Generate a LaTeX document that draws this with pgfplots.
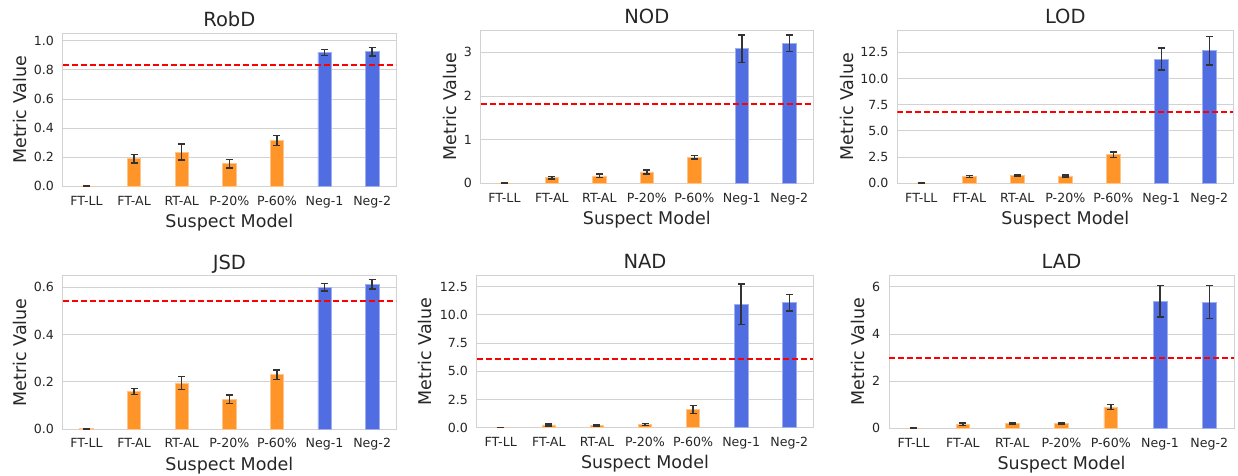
\documentclass[border=0pt]{standalone}
\usepackage{fontspec}
\setmainfont{DejaVu Sans}
\usepackage{pgfplots}
\pgfplotsset{compat=1.18}

\definecolor{barorange}{RGB}{255,148,40}
\definecolor{barblue}{RGB}{80,110,225}
\definecolor{gridgray}{RGB}{210,210,210}
\definecolor{txt}{RGB}{38,38,38}

% #1 = gap between the y label's baseline and the axis box
\pgfplotsset{
  panel/.style={
    scale only axis, anchor=south west,
    ybar, bar width=0.28, bar shift=0pt,
    xmin=-0.5, xmax=6.5, ymin=0,
    xtick={0,...,6},
    xticklabels={FT-LL,FT-AL,RT-AL,P-20\%,P-60\%,Neg-1,Neg-2},
    major tick length=0pt,
    ymajorgrids, grid style={gridgray, line width=0.9pt},
    axis line style={gridgray, line width=1pt},
    /pgf/number format/assume math mode=true,
    tick label style={font=\fontsize{12.6}{14}\selectfont, text=txt},
    xticklabel style={anchor=base, yshift=-18.7pt, inner sep=0pt},
    yticklabel style={anchor=east, xshift=-8.7pt, inner sep=0pt},
    xlabel={Suspect Model}, ylabel={Metric Value},
    every axis x label/.style={at={(axis description cs:0.5,0)}, anchor=base, yshift=-41pt,
      font=\fontsize{17.5}{20}\selectfont, text=txt},
    every axis y label/.style={at={(axis description cs:0,0.5)}, xshift=-#1pt, rotate=90, anchor=base,
      font=\fontsize{17.5}{20}\selectfont, text=txt},
    every axis title/.style={at={(axis description cs:0.5,1)}, anchor=base, yshift=6.7pt,
      font=\fontsize{19.5}{22}\selectfont, text=txt},
  },
  orangebars/.style={fill=barorange, draw=barorange!55!white, line width=0.7pt,
    error bars/.cd, y dir=both, y explicit,
    error bar style={line width=1.5pt, black!80},
    error mark options={rotate=90, mark size=3.5pt, line width=1.5pt, black!80}},
  bluebars/.style={fill=barblue, draw=barblue!55!white, line width=0.7pt,
    error bars/.cd, y dir=both, y explicit,
    error bar style={line width=1.5pt, black!80},
    error mark options={rotate=90, mark size=3.5pt, line width=1.5pt, black!80}},
  thresh/.style={red, line width=2pt, dash pattern=on 6pt off 3pt, sharp plot},
}

\begin{document}
\begin{tikzpicture}
\useasboundingbox (0,0) rectangle (1238pt,475pt);

% RobD
\begin{axis}[panel=36.7, at={(62.7pt,288.7pt)}, width=333.3pt, height=153pt,
  title={RobD}, ymax=1.051, ytick={0,0.2,...,1.0},
  yticklabel style={/pgf/number format/.cd, fixed, fixed zerofill, precision=1}]
\addplot[orangebars] coordinates {(0,0.001)+-(0,0) (1,0.19)+-(0,0.03) (2,0.235)+-(0,0.055) (3,0.155)+-(0,0.03) (4,0.315)+-(0,0.035)};
\addplot[bluebars] coordinates {(5,0.92)+-(0,0.02) (6,0.925)+-(0,0.03)};
\addplot[thresh] coordinates {(-0.5,0.833) (6.5,0.833)};
\end{axis}

% NOD
\begin{axis}[panel=24, at={(480.7pt,291.7pt)}, width=332.3pt, height=153.3pt,
  title={NOD}, ymax=3.51, ytick={0,1,2,3}]
\addplot[orangebars] coordinates {(0,0.003)+-(0,0) (1,0.13)+-(0,0.03) (2,0.17)+-(0,0.04) (3,0.26)+-(0,0.045) (4,0.60)+-(0,0.04)};
\addplot[bluebars] coordinates {(5,3.08)+-(0,0.31) (6,3.21)+-(0,0.19)};
\addplot[thresh] coordinates {(-0.5,1.81) (6.5,1.81)};
\end{axis}

% LOD
\begin{axis}[panel=44, at={(897.3pt,291.7pt)}, width=336pt, height=153.3pt,
  title={LOD}, ymax=14.63, ytick={0,2.5,...,12.5},
  yticklabel style={/pgf/number format/.cd, fixed, fixed zerofill, precision=1}]
\addplot[orangebars] coordinates {(0,0.01)+-(0,0) (1,0.65)+-(0,0.1) (2,0.73)+-(0,0.05) (3,0.7)+-(0,0.1) (4,2.73)+-(0,0.25)};
\addplot[bluebars] coordinates {(5,11.86)+-(0,1.04) (6,12.65)+-(0,1.36)};
\addplot[thresh] coordinates {(-0.5,6.83) (6.5,6.83)};
\end{axis}

% JSD
\begin{axis}[panel=36.7, at={(62.7pt,46pt)}, width=333.3pt, height=153.3pt,
  title={JSD}, ymax=0.649, ytick={0,0.2,0.4,0.6},
  yticklabel style={/pgf/number format/.cd, fixed, fixed zerofill, precision=1}]
\addplot[orangebars] coordinates {(0,0.001)+-(0,0) (1,0.159)+-(0,0.013) (2,0.195)+-(0,0.028) (3,0.125)+-(0,0.018) (4,0.23)+-(0,0.02)};
\addplot[bluebars] coordinates {(5,0.60)+-(0,0.016) (6,0.613)+-(0,0.02)};
\addplot[thresh] coordinates {(-0.5,0.542) (6.5,0.542)};
\end{axis}

% NAD
\begin{axis}[panel=45.7, at={(476.7pt,47.3pt)}, width=336.6pt, height=152.7pt,
  title={NAD}, ymax=13.54, ytick={0,2.5,...,12.5},
  yticklabel style={/pgf/number format/.cd, fixed, fixed zerofill, precision=1}]
\addplot[orangebars] coordinates {(0,0.01)+-(0,0) (1,0.25)+-(0,0.1) (2,0.22)+-(0,0.08) (3,0.28)+-(0,0.1) (4,1.6)+-(0,0.35)};
\addplot[bluebars] coordinates {(5,10.94)+-(0,1.8) (6,11.08)+-(0,0.73)};
\addplot[thresh] coordinates {(-0.5,6.09) (6.5,6.09)};
\end{axis}

% LAD
\begin{axis}[panel=25, at={(889pt,46.7pt)}, width=345pt, height=153.3pt,
  title={LAD}, ymax=6.5, ytick={0,2,4,6}]
\addplot[orangebars] coordinates {(0,0.005)+-(0,0) (1,0.17)+-(0,0.05) (2,0.19)+-(0,0.03) (3,0.21)+-(0,0.03) (4,0.9)+-(0,0.1)};
\addplot[bluebars] coordinates {(5,5.39)+-(0,0.66) (6,5.35)+-(0,0.7)};
\addplot[thresh] coordinates {(-0.5,2.98) (6.5,2.98)};
\end{axis}
\end{tikzpicture}
\end{document}
